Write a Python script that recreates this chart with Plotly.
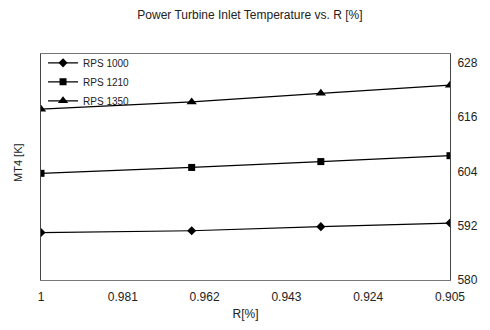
import plotly.graph_objects as go

# R values (reversed axis) and inlet temperatures per shaft speed
r_values = [1.0, 0.965, 0.935, 0.905]
rps_1000 = [590.5, 590.9, 591.8, 592.6]
rps_1210 = [603.6, 604.9, 606.2, 607.5]
rps_1350 = [617.8, 619.4, 621.3, 623.1]

x_ticks = [1, 0.981, 0.962, 0.943, 0.924, 0.905]
x_tick_text = ["1", "0.981", "0.962", "0.943", "0.924", "0.905"]
y_ticks = [580, 592, 604, 616, 628]

series = [
    ("RPS 1000", rps_1000, "diamond", 7),
    ("RPS 1210", rps_1210, "square", 7),
    ("RPS 1350", rps_1350, "triangle-up", 9),
]

font_family = "Liberation Sans, Arial, sans-serif"

fig = go.Figure()
for name, vals, sym, size in series:
    fig.add_trace(go.Scatter(
        x=r_values, y=vals, name=name, mode="lines+markers",
        line=dict(color="black", width=1.2),
        marker=dict(symbol=sym, size=size, color="black"),
    ))

fig.update_layout(
    width=490, height=330,
    margin=dict(l=41, r=40, t=54, b=50),
    paper_bgcolor="white", plot_bgcolor="white",
    font=dict(family=font_family, size=11, color="#222"),
    title=dict(text="Power Turbine Inlet Temperature vs. R [%]",
               x=0.51, xanchor="center", y=0.955, yanchor="middle",
               font=dict(size=12, color="#222")),
    showlegend=True,
    legend=dict(x=0.005, y=1.025, xanchor="left", yanchor="top",
                bgcolor="rgba(255,255,255,0)", font=dict(size=10, color="#222"),
                tracegroupgap=0, itemwidth=30),
    xaxis=dict(
        range=[1.0, 0.905], autorange=False, automargin=False,
        tickmode="array", tickvals=x_ticks, ticktext=x_tick_text,
        showgrid=False, zeroline=False, ticks="",
        showline=True, mirror=True, linecolor="#777", linewidth=1,
        tickfont=dict(size=12, color="#222"), ticklabelstandoff=6,
        title=dict(text="R[%]", font=dict(size=12, color="#222"), standoff=6),
    ),
    yaxis=dict(
        range=[580, 630], side="right", automargin=False,
        tickmode="array", tickvals=y_ticks,
        showgrid=False, zeroline=False, ticks="",
        showline=True, mirror=True, linecolor="#444", linewidth=1,
        tickfont=dict(size=12, color="#222"), ticklabelstandoff=4,
    ),
)

fig.add_annotation(
    text="MT4 [K]", textangle=-90, xref="paper", yref="paper",
    x=-0.055, y=0.52, xanchor="center", yanchor="middle", showarrow=False,
    font=dict(size=11, color="#222"),
)

fig.write_html("out.html")
